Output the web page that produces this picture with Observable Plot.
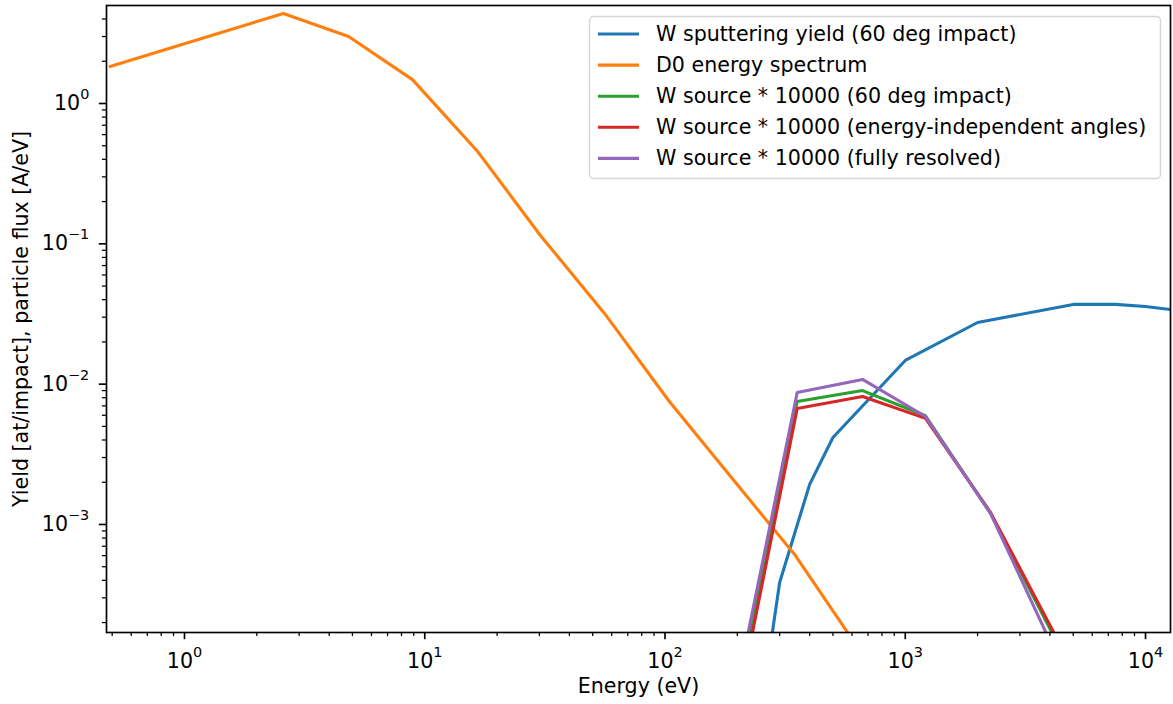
<!DOCTYPE html>
<html><head><meta charset="utf-8">
<script src="https://cdn.jsdelivr.net/npm/d3@7"></script>
<script src="https://cdn.jsdelivr.net/npm/@observablehq/plot@0.6"></script>
<style>body{margin:0;background:#fff;}</style>
</head><body><div id="chart"></div>
<script>
// D0 energy spectrum
const energyD0 = [0.49, 2.58, 4.82, 8.89, 16.6, 30.3, 56.0, 103.5, 189, 349, 640];
const fluxD0   = [1.835, 4.38, 3.0, 1.48, 0.455, 0.1147, 0.0319, 0.00765, 0.00216, 0.0006, 0.00013];
// W sputtering yield (60 deg impact)
const energyYield = [250, 300, 400, 500, 1000, 2000, 5000, 7500, 10000, 20000];
const yieldW      = [4.5e-5, 3.86e-4, 1.93e-3, 4.17e-3, 0.01475, 0.0275, 0.037, 0.037, 0.0358, 0.0308];
// W source * 10000
const energySrc   = [189, 355, 664, 1214, 2264, 4150];
const src60       = [3.7e-5, 0.00752, 0.0090, 0.00595, 0.0012, 1.6e-4];
const srcIndep    = [3.0e-5, 0.0067, 0.00817, 0.0057, 0.00122, 1.7e-4];
const srcFull     = [4.4e-5, 0.00872, 0.0108, 0.00588, 0.0012, 1.29e-4];

const legendLabels = [
  "W sputtering yield (60 deg impact)",
  "D0 energy spectrum",
  "W source * 10000 (60 deg impact)",
  "W source * 10000 (energy-independent angles)",
  "W source * 10000 (fully resolved)"
];
const colors = ["#1f77b4", "#ff7f0e", "#2ca02c", "#d62728", "#9467bd"];

const xMajor = [1, 10, 100, 1000, 10000];
const xMinor = [0.5,0.6,0.7,0.8,0.9, 2,3,4,5,6,7,8,9, 20,30,40,50,60,70,80,90,
                200,300,400,500,600,700,800,900, 2000,3000,4000,5000,6000,7000,8000,9000];
const yMajor = [1e-3, 1e-2, 1e-1, 1];
const yMinor = [2e-4,3e-4,4e-4,5e-4,6e-4,7e-4,8e-4,9e-4,
                2e-3,3e-3,4e-3,5e-3,6e-3,7e-3,8e-3,9e-3,
                2e-2,3e-2,4e-2,5e-2,6e-2,7e-2,8e-2,9e-2,
                0.2,0.3,0.4,0.5,0.6,0.7,0.8,0.9, 2,3,4];
const xLabel = "Energy (eV)";
const yLabel = "Yield [at/impact], particle flux [A/eV]";

// tick label "10^k" (exponent rendered as a superscript tspan afterwards)
const fmt = d => "10^" + String(Math.round(Math.log10(d))).replace("-", "\u2212");

const rows = (xs, ys) => xs.map((x, i) => ({x, y: ys[i]}));
const series = [
  rows(energyYield, yieldW),
  rows(energyD0, fluxD0),
  rows(energySrc, src60),
  rows(energySrc, srcIndep),
  rows(energySrc, srcFull)
];

const FS = 20.6;
const chart = Plot.plot({
  width: 1173, height: 704,
  marginLeft: 106, marginRight: 3, marginTop: 5, marginBottom: 72,
  style: {fontFamily: "DejaVu Sans", fontSize: FS + "px", color: "black", background: "white"},
  x: {type: "log", domain: [0.4735, 12706]},
  y: {type: "log", domain: [1.699e-4, 4.993]},
  marks: [
    ...series.map((s, i) => Plot.line(s, {x: "x", y: "y", stroke: colors[i], strokeWidth: 3.1, clip: true})),
    Plot.frame({stroke: "black", strokeWidth: 1.65}),
    Plot.axisX({ticks: xMinor, tickSize: 4.1, strokeWidth: 1.25, tickFormat: () => "", label: null}),
    Plot.axisX({ticks: xMajor, tickSize: 7.2, strokeWidth: 1.65, tickPadding: 14, tickFormat: fmt, label: null}),
    Plot.axisY({ticks: yMinor, tickSize: 4.1, strokeWidth: 1.25, tickFormat: () => "", label: null}),
    Plot.axisY({ticks: yMajor, tickSize: 7.2, strokeWidth: 1.65, tickPadding: 10, tickFormat: fmt, label: null}),
    Plot.text([xLabel], {text: d => d, frameAnchor: "bottom", dy: 60}),
    Plot.text([yLabel], {text: d => d, frameAnchor: "left", textAnchor: "middle", dx: -85, rotate: -90})
  ]
});
document.getElementById("chart").append(chart);

// render exponents as superscripts
d3.select(chart).selectAll("text").each(function() {
  const t = this.textContent;
  const m = /^10\^(.+)$/.exec(t);
  if (!m) return;
  const el = d3.select(this);
  el.text("10");
  el.append("tspan").attr("dy", -11).attr("font-size", (FS * 0.7) + "px").text(m[1]);
});

// legend inside the axes (upper right)
const svg = d3.select(chart);
const lg = svg.append("g");
lg.append("rect")
  .attr("x", 589.5).attr("y", 16.5).attr("width", 571).attr("height", 162).attr("rx", 4)
  .attr("fill", "white").attr("fill-opacity", 0.8)
  .attr("stroke", "#d6d6d6").attr("stroke-width", 1.5);
legendLabels.forEach((lab, i) => {
  const yy = 34 + i * 31.1;
  lg.append("line").attr("x1", 598).attr("x2", 639).attr("y1", yy).attr("y2", yy)
    .attr("stroke", colors[i]).attr("stroke-width", 3.1);
  lg.append("text").attr("x", 656).attr("y", yy).attr("dominant-baseline", "central")
    .attr("text-anchor", "start")
    .attr("font-family", "DejaVu Sans").attr("font-size", FS + "px").attr("fill", "black").text(lab);
});
</script>
</body></html>
